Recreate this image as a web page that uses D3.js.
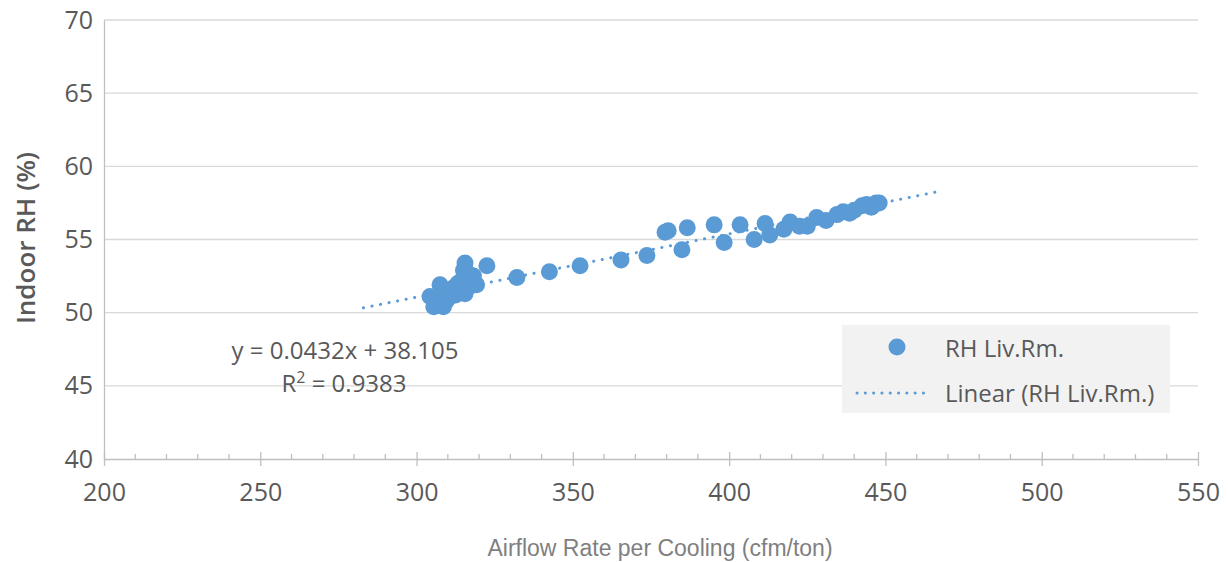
<!DOCTYPE html>
<html>
<head>
<meta charset="utf-8">
<script src="https://cdn.jsdelivr.net/npm/d3@7"></script>
<style>
  html, body { margin: 0; padding: 0; background: #ffffff; }
  svg { display: block; }
</style>
</head>
<body>
<svg id="chart" width="1228" height="562"></svg>
<script>
// Airflow rate per cooling ton (cfm/ton) and living-room relative humidity (%)
const airflow = [
  304.3, 305.5, 306.5, 307.5, 308.0, 308.6, 309.5, 310.2, 311.0, 311.8, 312.5,
  313.2, 313.9, 314.5, 315.0, 315.5, 315.5, 316.4, 317.1, 318.2, 319.2, 322.5,
  332.1, 342.5, 352.3, 365.4, 373.7, 384.9, 379.5, 380.5, 386.6, 395.2, 398.4,
  403.5, 408.0, 411.5, 413.0, 417.5, 419.5, 422.5, 425.0, 428.0, 431.0, 434.5,
  436.5, 438.5, 440.0, 442.5, 444.0, 445.5, 447.0, 448.0
];
const rhLivRm = [
  51.1, 50.4, 50.5, 51.9, 51.2, 50.4, 50.8, 51.0, 51.4, 51.7, 51.2,
  52.0, 52.1, 51.5, 52.9, 53.4, 51.3, 52.7, 51.8, 52.5, 51.9, 53.2,
  52.4, 52.8, 53.2, 53.6, 53.9, 54.3, 55.5, 55.6, 55.8, 56.0, 54.8,
  56.0, 55.0, 56.1, 55.3, 55.7, 56.2, 55.9, 55.9, 56.5, 56.3, 56.7,
  56.9, 56.8, 57.0, 57.3, 57.4, 57.2, 57.5, 57.5
];

// Linear trendline (slope, intercept, R²) and the x-span it is drawn over
const trendSlope = 0.0432;
const trendIntercept = 38.105;
const trendR2 = 0.9383;
const trendRange = [283, 467];

// Axis ticks
const xTicks = [200, 250, 300, 350, 400, 450, 500, 550];
const xMinorTicks = d3.range(200, 551, 10);
const yTicks = [40, 45, 50, 55, 60, 65, 70];

const seriesName = "RH Liv.Rm.";
const trendName = "Linear (RH Liv.Rm.)";
const xTitle = "Airflow Rate per Cooling (cfm/ton)";
const yTitle = "Indoor RH (%)";

const blue = "#5b9bd5";
const textGray = "#595959";
const gridGray = "#d9d9d9";
const axisGray = "#bfbfbf";
const font = "'Open Sans', sans-serif";

const svg = d3.select("#chart");
const plot = { left: 104, right: 1198, top: 20, bottom: 459 };

const x = d3.scaleLinear().domain([200, 550]).range([plot.left, plot.right]);
const y = d3.scaleLinear().domain([40, 70]).range([plot.bottom, plot.top]);

// Horizontal gridlines
svg.append("g")
  .selectAll("line")
  .data(yTicks.filter(v => v !== 40))
  .join("line")
  .attr("x1", plot.left).attr("x2", plot.right)
  .attr("y1", d => y(d)).attr("y2", d => y(d))
  .attr("stroke", gridGray).attr("stroke-width", 1.3);

// Y axis
const yAxis = svg.append("g")
  .attr("transform", `translate(${plot.left},0)`)
  .call(d3.axisLeft(y).tickValues(yTicks).tickSize(0).tickPadding(11));
yAxis.select(".domain").attr("stroke", axisGray).attr("stroke-width", 1.3);
yAxis.selectAll("text")
  .attr("fill", textGray)
  .style("font-family", font)
  .style("font-size", "25px");

// X axis: minor ticks inside, major ticks crossing the line
const xg = svg.append("g").attr("transform", `translate(0,${plot.bottom})`);
xg.selectAll("line.minor")
  .data(xMinorTicks.filter(v => !xTicks.includes(v)))
  .join("line")
  .attr("class", "minor")
  .attr("x1", d => x(d)).attr("x2", d => x(d))
  .attr("y1", -5).attr("y2", 0)
  .attr("stroke", axisGray).attr("stroke-width", 1.3);
const xAxis = xg.call(
  d3.axisBottom(x).tickValues(xTicks).tickSizeInner(7).tickSizeOuter(0).tickPadding(17)
);
xAxis.select(".domain").attr("stroke", axisGray).attr("stroke-width", 1.3);
xAxis.selectAll(".tick line")
  .attr("y1", -7).attr("y2", 7)
  .attr("stroke", axisGray).attr("stroke-width", 1.3);
xAxis.selectAll(".tick text")
  .attr("fill", textGray)
  .style("font-family", font)
  .style("font-size", "25px");

// Axis titles
svg.append("text")
  .attr("x", 660)
  .attr("y", 556)
  .attr("text-anchor", "middle")
  .attr("fill", "#7f7f7f")
  .style("font-family", "'Liberation Sans', Arial, sans-serif")
  .style("font-size", "23px")
  .text(xTitle);

svg.append("text")
  .attr("transform", "translate(35,238) rotate(-90)")
  .attr("text-anchor", "middle")
  .attr("fill", textGray)
  .style("font-family", font)
  .style("font-size", "26px")
  .style("font-weight", "600")
  .text(yTitle);

// Data points
const points = airflow.map((v, i) => ({ x: v, y: rhLivRm[i] }));
svg.append("g")
  .selectAll("circle")
  .data(points)
  .join("circle")
  .attr("cx", d => x(d.x))
  .attr("cy", d => y(d.y))
  .attr("r", 8.5)
  .attr("fill", blue);

// Trendline
const trendLine = d3.line()
  .x(d => x(d))
  .y(d => y(trendSlope * d + trendIntercept));
svg.append("path")
  .datum(trendRange)
  .attr("d", trendLine)
  .attr("fill", "none")
  .attr("stroke", blue)
  .attr("stroke-width", 3)
  .attr("stroke-linecap", "round")
  .attr("stroke-dasharray", "0.1 8.6");

// Trendline equation label
const eq = svg.append("text")
  .attr("text-anchor", "middle")
  .attr("fill", textGray)
  .style("font-family", font)
  .style("font-size", "24px");
eq.append("tspan")
  .attr("x", 345).attr("y", 359)
  .text(`y = ${trendSlope}x + ${trendIntercept}`);
const r2 = eq.append("tspan").attr("x", 344).attr("y", 392);
r2.append("tspan").text("R");
r2.append("tspan").attr("dy", -9).style("font-size", "16px").text("2");
r2.append("tspan").attr("dy", 9).text(` = ${trendR2}`);

// Legend
const legend = svg.append("g");
legend.append("rect")
  .attr("x", 842).attr("y", 325)
  .attr("width", 328).attr("height", 88)
  .attr("fill", "#f2f2f2");
legend.append("circle")
  .attr("cx", 897).attr("cy", 347).attr("r", 8.5)
  .attr("fill", blue);
legend.append("line")
  .attr("x1", 857).attr("x2", 930)
  .attr("y1", 393).attr("y2", 393)
  .attr("stroke", blue)
  .attr("stroke-width", 3)
  .attr("stroke-linecap", "round")
  .attr("stroke-dasharray", "0.1 8.2");
legend.selectAll("text.item")
  .data([seriesName, trendName])
  .join("text")
  .attr("class", "item")
  .attr("x", 945)
  .attr("y", (d, i) => 357 + i * 45)
  .attr("fill", textGray)
  .style("font-family", font)
  .style("font-size", "24px")
  .text(d => d);
</script>
</body>
</html>
